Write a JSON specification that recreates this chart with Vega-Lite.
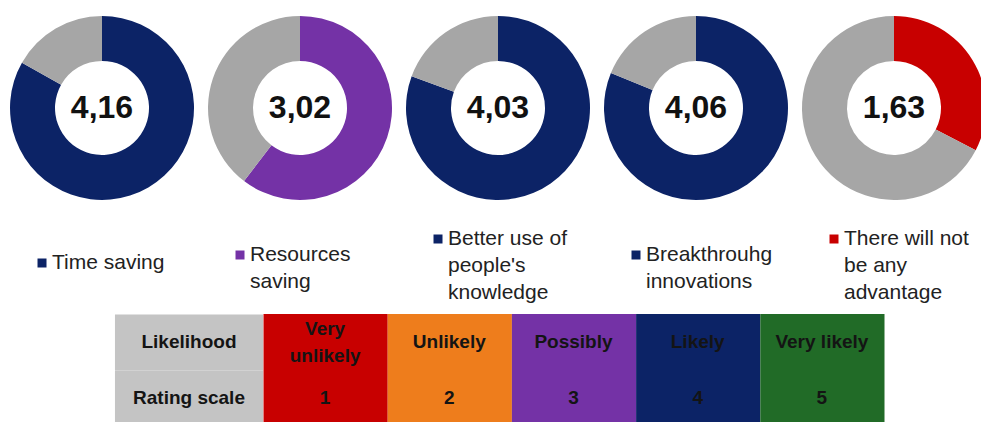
{
  "$schema": "https://vega.github.io/schema/vega-lite/v6.json",
  "width": 981,
  "height": 422,
  "autosize": "none",
  "padding": 0,
  "background": "white",
  "config": {
    "view": {"stroke": null},
    "locale": {"number": {"decimal": ",", "thousands": ".", "grouping": [3], "currency": ["", " €"]}}
  },
  "datasets": {
    "segments": [
      {"item": 1, "start": 0, "end": 4.16, "level": "Likely"},
      {"item": 1, "start": 4.16, "end": 5, "level": "Rest"},
      {"item": 2, "start": 0, "end": 3.02, "level": "Possibly"},
      {"item": 2, "start": 3.02, "end": 5, "level": "Rest"},
      {"item": 3, "start": 0, "end": 4.03, "level": "Likely"},
      {"item": 3, "start": 4.03, "end": 5, "level": "Rest"},
      {"item": 4, "start": 0, "end": 4.06, "level": "Likely"},
      {"item": 4, "start": 4.06, "end": 5, "level": "Rest"},
      {"item": 5, "start": 0, "end": 1.63, "level": "Very unlikely"},
      {"item": 5, "start": 1.63, "end": 5, "level": "Rest"}
    ],
    "items": [
      {"item": 1, "name": "Time saving", "lines": 1, "score": 4.16, "level": "Likely"},
      {"item": 2, "name": "Resources\nsaving", "lines": 2, "score": 3.02, "level": "Possibly"},
      {"item": 3, "name": "Better use of\npeople's\nknowledge", "lines": 3, "score": 4.03, "level": "Likely"},
      {"item": 4, "name": "Breakthrouhg\ninnovations", "lines": 2, "score": 4.06, "level": "Likely"},
      {"item": 5, "name": "There will not\nbe any\nadvantage", "lines": 3, "score": 1.63, "level": "Very unlikely"}
    ],
    "ratings": [
      {"rating": 1, "likelihood": "Very\nunlikely", "lines": 2, "level": "Very unlikely"},
      {"rating": 2, "likelihood": "Unlikely", "lines": 1, "level": "Unlikely"},
      {"rating": 3, "likelihood": "Possibly", "lines": 1, "level": "Possibly"},
      {"rating": 4, "likelihood": "Likely", "lines": 1, "level": "Likely"},
      {"rating": 5, "likelihood": "Very likely", "lines": 1, "level": "Very likely"}
    ],
    "rows": [
      {"row": 1, "header": "Likelihood"},
      {"row": 2, "header": "Rating scale"}
    ]
  },
  "resolve": {"scale": {"x": "independent", "y": "independent"}},
  "layer": [
    {
      "data": {"name": "segments"},
      "mark": {"type": "arc", "radius": 92, "radius2": 47},
      "encoding": {
        "x": {"field": "item", "type": "quantitative", "stack": null, "scale": {"domain": [0.4848, 5.4394], "nice": false, "zero": false}, "axis": null},
        "y": {"datum": -3.179, "type": "quantitative", "scale": {"domain": [-5.107, 2.429], "reverse": true, "nice": false, "zero": false}, "axis": null},
        "theta": {"field": "start", "type": "quantitative", "stack": null, "scale": {"domain": [0, 5], "range": [0, 6.283185], "nice": false, "zero": false}},
        "theta2": {"field": "end"},
        "color": {"field": "level", "type": "nominal", "legend": null,
          "scale": {"domain": ["Very unlikely", "Unlikely", "Possibly", "Likely", "Very likely", "Rest"],
                    "range": ["#C80000", "#EE7D1C", "#7432A6", "#0C2366", "#216B27", "#A6A6A6"]}}
      }
    },
    {
      "data": {"name": "items"},
      "mark": {"type": "text", "font": "Liberation Sans", "fontSize": 32, "fontWeight": "bold", "color": "#111111", "align": "center", "baseline": "middle"},
      "encoding": {
        "x": {"field": "item", "type": "quantitative", "scale": {"domain": [0.4848, 5.4394], "nice": false, "zero": false}, "axis": null},
        "y": {"datum": -3.179, "type": "quantitative", "scale": {"domain": [-5.107, 2.429], "reverse": true, "nice": false, "zero": false}, "axis": null},
        "text": {"field": "score", "type": "quantitative", "format": ".2f"}
      }
    },
    {
      "data": {"name": "items"},
      "mark": {"type": "text", "font": "Liberation Sans", "fontSize": 21, "color": "#222222", "align": "left", "baseline": "middle", "dx": -50, "lineBreak": "\n", "lineHeight": 27},
      "encoding": {
        "x": {"field": "item", "type": "quantitative", "scale": {"domain": [0.4848, 5.4394], "nice": false, "zero": false}, "axis": null},
        "y": {"field": "lines", "type": "quantitative", "scale": {"domain": [1, 2, 3], "range": [263, 255, 239], "nice": false, "zero": false}, "axis": null},
        "text": {"field": "name", "type": "nominal"}
      }
    },
    {
      "data": {"name": "items"},
      "mark": {"type": "point", "shape": "square", "filled": true, "opacity": 1, "size": 81, "xOffset": -60},
      "encoding": {
        "x": {"field": "item", "type": "quantitative", "stack": null, "scale": {"domain": [0.4848, 5.4394], "nice": false, "zero": false}, "axis": null},
        "y": {"field": "lines", "type": "quantitative", "scale": {"domain": [1, 2, 3], "range": [263, 255, 239], "nice": false, "zero": false}, "axis": null},
        "color": {"field": "level", "type": "nominal", "legend": null,
          "scale": {"domain": ["Very unlikely", "Unlikely", "Possibly", "Likely", "Very likely", "Rest"],
                    "range": ["#C80000", "#EE7D1C", "#7432A6", "#0C2366", "#216B27", "#A6A6A6"]}}
      }
    },
    {
      "data": {"name": "rows"},
      "mark": {"type": "rect", "color": "#C4C4C4", "binSpacing": 0},
      "encoding": {
        "x": {"datum": -0.692, "type": "quantitative", "scale": {"domain": [-1.6176, 6.281], "nice": false, "zero": false}, "axis": null},
        "x2": {"datum": 0.5},
        "y": {"field": "row", "type": "quantitative", "bin": {"extent": [0.5, 2.5], "step": 1, "nice": false}, "scale": {"domain": [-5.107, 2.429], "reverse": true, "nice": false, "zero": false}, "axis": null}
      }
    },
    {
      "data": {"name": "ratings"},
      "mark": {"type": "rect", "binSpacing": 0},
      "encoding": {
        "x": {"field": "rating", "type": "quantitative", "bin": {"extent": [0.5, 5.5], "step": 1, "nice": false}, "scale": {"domain": [-1.6176, 6.281], "nice": false, "zero": false}, "axis": null},
        "y": {"datum": 0.5, "type": "quantitative", "scale": {"domain": [-5.107, 2.429], "reverse": true, "nice": false, "zero": false}, "axis": null},
        "y2": {"datum": 2.5},
        "color": {"field": "level", "type": "nominal", "legend": null,
          "scale": {"domain": ["Very unlikely", "Unlikely", "Possibly", "Likely", "Very likely", "Rest"],
                    "range": ["#C80000", "#EE7D1C", "#7432A6", "#0C2366", "#216B27", "#A6A6A6"]}}
      }
    },
    {
      "data": {"name": "rows"},
      "mark": {"type": "text", "font": "Liberation Sans", "fontSize": 19, "fontWeight": "bold", "color": "#141414", "align": "center", "baseline": "middle"},
      "encoding": {
        "x": {"datum": -0.096, "type": "quantitative", "scale": {"domain": [-1.6176, 6.281], "nice": false, "zero": false}, "axis": null},
        "y": {"field": "row", "type": "quantitative", "scale": {"domain": [-5.107, 2.429], "reverse": true, "nice": false, "zero": false}, "axis": null},
        "text": {"field": "header", "type": "nominal"}
      }
    },
    {
      "data": {"name": "ratings"},
      "mark": {"type": "text", "font": "Liberation Sans", "fontSize": 19, "fontWeight": "bold", "color": "#141414", "align": "center", "baseline": "middle", "lineBreak": "\n", "lineHeight": 27},
      "encoding": {
        "x": {"field": "rating", "type": "quantitative", "scale": {"domain": [-1.6176, 6.281], "nice": false, "zero": false}, "axis": null},
        "y": {"field": "lines", "type": "quantitative", "scale": {"domain": [1, 2], "range": [342, 328.5], "nice": false, "zero": false}, "axis": null},
        "text": {"field": "likelihood", "type": "nominal"}
      }
    },
    {
      "data": {"name": "ratings"},
      "mark": {"type": "text", "font": "Liberation Sans", "fontSize": 19, "fontWeight": "bold", "color": "#141414", "align": "center", "baseline": "middle"},
      "encoding": {
        "x": {"field": "rating", "type": "quantitative", "scale": {"domain": [-1.6176, 6.281], "nice": false, "zero": false}, "axis": null},
        "y": {"datum": 2, "type": "quantitative", "scale": {"domain": [-5.107, 2.429], "reverse": true, "nice": false, "zero": false}, "axis": null},
        "text": {"field": "rating", "type": "nominal"}
      }
    }
  ]
}
